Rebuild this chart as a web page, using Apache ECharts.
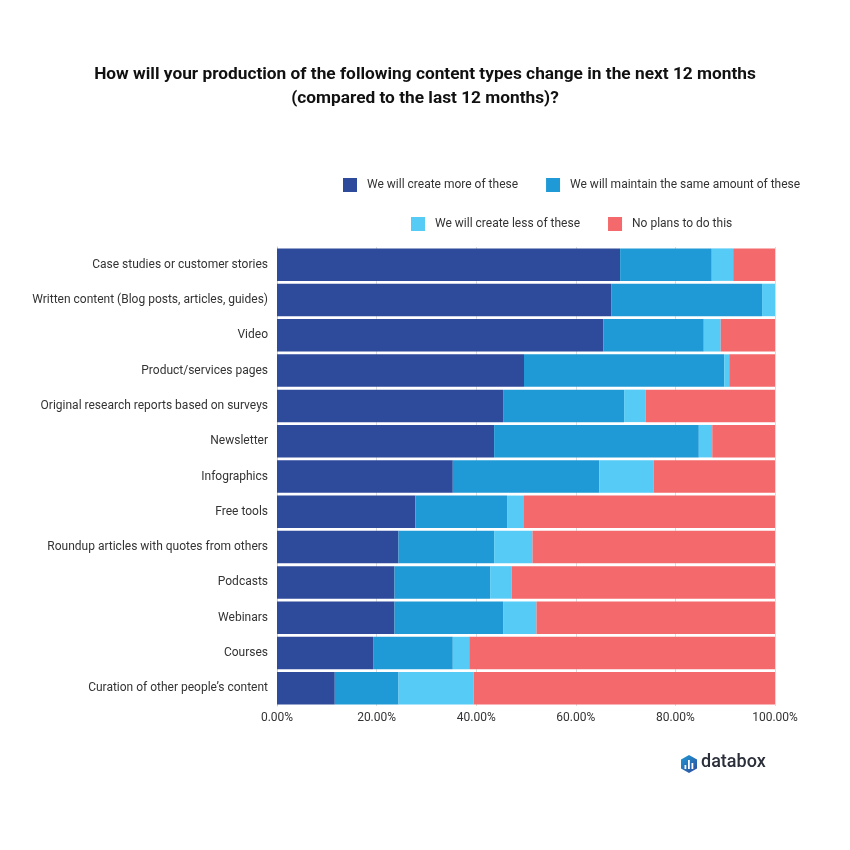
<!DOCTYPE html>
<html>
<head>
<meta charset="utf-8">
<script src="https://cdn.jsdelivr.net/npm/echarts@6/dist/echarts.min.js"></script>
<style>
html,body{margin:0;padding:0;background:#fff;}
#chart{width:850px;height:850px;}
</style>
</head>
<body>
<div id="chart"></div>
<script>
var categories = [
  "Case studies or customer stories",
  "Written content (Blog posts, articles, guides)",
  "Video",
  "Product/services pages",
  "Original research reports based on surveys",
  "Newsletter",
  "Infographics",
  "Free tools",
  "Roundup articles with quotes from others",
  "Podcasts",
  "Webinars",
  "Courses",
  "Curation of other people\u2019s content"
];
var seriesNames = [
  "We will create more of these",
  "We will maintain the same amount of these",
  "We will create less of these",
  "No plans to do this"
];
var createMore = [68.9, 67.1, 65.5, 49.6, 45.4, 43.6, 35.3, 27.8, 24.4, 23.6, 23.6, 19.3, 11.6];
var maintainSame = [18.4, 30.3, 20.2, 40.2, 24.3, 41.1, 29.4, 18.4, 19.2, 19.2, 21.8, 16.0, 12.8];
var createLess = [4.3, 2.6, 3.4, 1.0, 4.3, 2.7, 10.9, 3.4, 7.7, 4.3, 6.7, 3.3, 15.1];
var noPlans = [8.4, 0.0, 10.9, 9.2, 26.0, 12.6, 24.4, 50.4, 48.7, 52.9, 47.9, 61.4, 60.5];
var xTicks = [0, 20, 40, 60, 80, 100];

var colors = ["#2E4A9A", "#1F9AD6", "#55CBF5", "#F4696B"];
var allData = [createMore, maintainSame, createLess, noPlans];

var chart = echarts.init(document.getElementById('chart'), null, {renderer: 'canvas'});

var series = seriesNames.map(function (name, i) {
  return {
    name: name,
    type: 'bar',
    stack: 'total',
    barCategoryGap: '8%',
    data: allData[i],
    itemStyle: {color: colors[i]},
    emphasis: {disabled: true}
  };
});

var legendText = {fontFamily: 'Roboto', fontSize: 12, color: '#333', padding: [0, 0, 0, 5]};

var option = {
  backgroundColor: '#fff',
  animation: false,
  color: colors,
  title: {
    text: 'How will your production of the following content types change in the next 12 months\n(compared to the last 12 months)?',
    left: 'center',
    top: 58,
    textStyle: {fontFamily: 'Roboto', fontWeight: 'bold', fontSize: 17.3, color: '#111', lineHeight: 24}
  },
  legend: [
    {
      data: [seriesNames[0], seriesNames[1]],
      left: 343, top: 178, padding: 0,
      itemWidth: 14, itemHeight: 14, itemGap: 28,
      icon: 'rect',
      textStyle: legendText
    },
    {
      data: [seriesNames[2], seriesNames[3]],
      left: 411, top: 217, padding: 0,
      itemWidth: 14, itemHeight: 14, itemGap: 28,
      icon: 'rect',
      textStyle: legendText
    }
  ],
  grid: {left: 277, right: 75, top: 247, bottom: 144, containLabel: false},
  xAxis: {
    type: 'value',
    min: xTicks[0],
    max: xTicks[xTicks.length - 1],
    interval: 20,
    axisLine: {show: false},
    axisTick: {show: false},
    splitLine: {show: true, lineStyle: {color: '#dcdcdc', width: 1}},
    axisLabel: {
      margin: 6,
      fontFamily: 'Roboto', fontSize: 12, color: '#333',
      formatter: function (v) { return v.toFixed(2) + '%'; }
    }
  },
  yAxis: {
    type: 'category',
    inverse: true,
    data: categories,
    axisLine: {show: true, lineStyle: {color: '#cccccc'}},
    axisTick: {show: false},
    axisLabel: {margin: 9, fontFamily: 'Roboto', fontSize: 12, color: '#333'}
  },
  series: series,
  graphic: [
    {
      type: 'polygon',
      shape: {points: [[689, 755], [697, 759.5], [697, 768.5], [689, 773], [681, 768.5], [681, 759.5]]},
      style: {
        fill: new echarts.graphic.LinearGradient(0, 0, 1, 1, [
          {offset: 0, color: '#1F9AD6'},
          {offset: 1, color: '#2E4A9A'}
        ])
      }
    },
    {type: 'rect', shape: {x: 684.5, y: 765, width: 1.8, height: 4}, style: {fill: '#fff'}},
    {type: 'rect', shape: {x: 688, y: 760, width: 1.8, height: 9}, style: {fill: '#fff'}},
    {type: 'rect', shape: {x: 691.5, y: 763, width: 1.8, height: 6}, style: {fill: '#fff'}},
    {
      type: 'text',
      left: 701, top: 753,
      style: {text: 'databox', fontFamily: 'Roboto', fontSize: 18, fontWeight: 500, fill: '#2b2f3a'}
    }
  ]
};
chart.setOption(option);
</script>
</body>
</html>
